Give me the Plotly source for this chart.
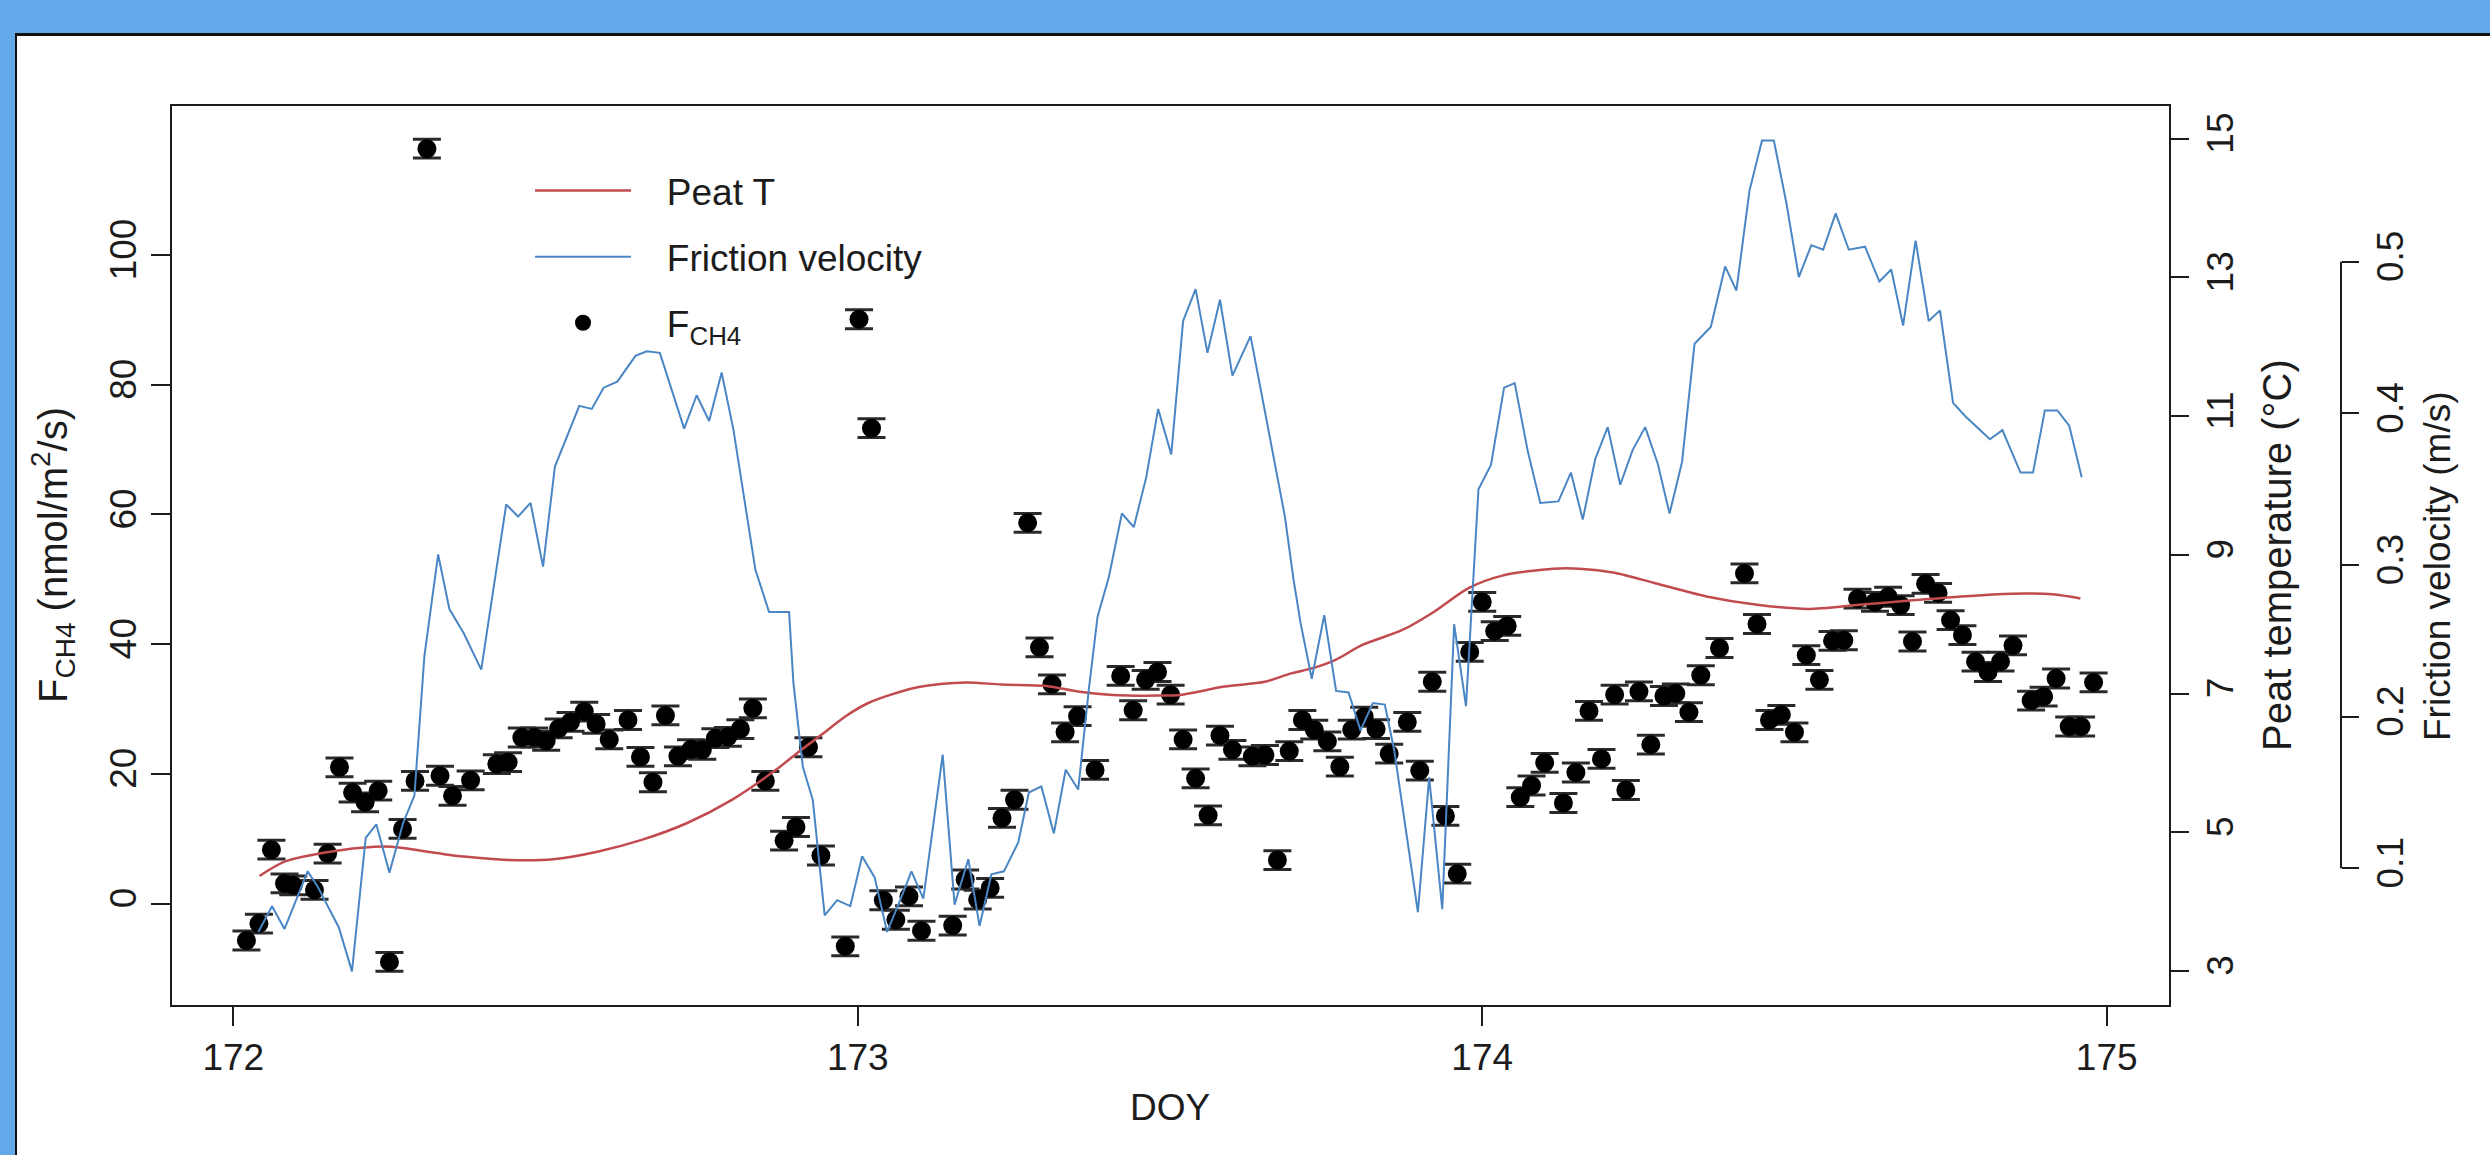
import plotly.graph_objects as go

# ---------------- data ----------------
# Half-hourly CH4 flux (nmol/m2/s) with its standard error
DOY_FCH4 = [
    172.021, 172.041, 172.061, 172.082, 172.096, 172.130, 172.151, 172.170, 172.191, 172.211,
    172.232, 172.250, 172.271, 172.291, 172.310, 172.331, 172.351, 172.380, 172.422, 172.440,
    172.462, 172.482, 172.501, 172.521, 172.540, 172.562, 172.581, 172.602, 172.632, 172.652,
    172.672, 172.692, 172.712, 172.733, 172.751, 172.772, 172.792, 172.812, 172.832, 172.852,
    172.882, 172.901, 172.921, 172.941, 172.980, 173.002, 173.022, 173.041, 173.061, 173.082,
    173.102, 173.152, 173.172, 173.192, 173.212, 173.231, 173.251, 173.272, 173.291, 173.311,
    173.332, 173.352, 173.380, 173.421, 173.441, 173.461, 173.480, 173.501, 173.521, 173.541,
    173.561, 173.580, 173.600, 173.632, 173.652, 173.672, 173.691, 173.712, 173.731, 173.752,
    173.772, 173.791, 173.811, 173.830, 173.851, 173.880, 173.900, 173.920, 173.941, 173.960,
    173.980, 174.000, 174.020, 174.040, 174.061, 174.079, 174.100, 174.130, 174.150, 174.171,
    174.191, 174.212, 174.230, 174.251, 174.270, 174.291, 174.310, 174.331, 174.350, 174.380,
    174.420, 174.440, 174.460, 174.479, 174.500, 174.519, 174.540, 174.561, 174.579, 174.601,
    174.629, 174.650, 174.670, 174.689, 174.710, 174.730, 174.750, 174.769, 174.790, 174.810,
    174.830, 174.850, 174.879, 174.899, 174.919, 174.940, 174.959, 174.979,
]
FCH4 = [
    -5.7, -3.1, 8.3, 3.1, 2.8, 2.1, 7.7, 21.0, 17.1, 15.6,
    17.4, -9.0, 11.5, 18.9, 116.4, 19.7, 16.6, 19.0, 21.5, 21.8,
    25.6, 25.6, 25.1, 27.0, 28.0, 29.6, 27.7, 25.3, 28.3, 22.6,
    18.7, 29.0, 22.7, 23.8, 23.7, 25.5, 25.7, 26.9, 30.1, 18.9,
    9.7, 11.8, 24.1, 7.4, -6.6, 90.1, 73.3, 0.5, -2.5, 1.1,
    -4.2, -3.4, 3.7, 0.6, 2.4, 13.2, 16.0, 58.7, 39.5, 33.8,
    26.4, 28.9, 20.6, 35.1, 29.8, 34.5, 35.7, 32.2, 25.3, 19.3,
    13.6, 25.9, 23.7, 22.7, 22.9, 6.7, 23.5, 28.3, 26.8, 25.0,
    21.1, 26.8, 28.8, 26.9, 23.1, 28.0, 20.5, 34.2, 13.5, 4.6,
    38.8, 46.5, 42.0, 42.8, 16.4, 18.2, 21.7, 15.5, 20.2, 29.7,
    22.3, 32.2, 17.5, 32.7, 24.5, 32.0, 32.4, 29.5, 35.2, 39.4,
    50.9, 43.1, 28.3, 29.1, 26.4, 38.3, 34.5, 40.5, 40.6, 47.0,
    46.5, 47.3, 46.0, 40.4, 49.3, 47.9, 43.7, 41.4, 37.3, 35.7,
    37.3, 39.8, 31.3, 31.9, 34.7, 27.3, 27.3, 34.1,
]
FCH4_SE = 1.45

# Peat temperature (deg C)
DOY_PEAT = [
    172.042, 172.083, 172.155, 172.226, 172.254, 172.326, 172.369, 172.440, 172.512, 172.583,
    172.654, 172.726, 172.797, 172.869, 172.904, 172.944, 172.980, 173.016, 173.052, 173.102,
    173.173, 173.230, 173.302, 173.352, 173.408, 173.480, 173.516, 173.587, 173.652, 173.694,
    173.730, 173.766, 173.808, 173.873, 173.923, 173.978, 174.032, 174.114, 174.155, 174.212,
    174.277, 174.359, 174.440, 174.522, 174.603, 174.685, 174.767, 174.848, 174.913, 174.958,
]
PEAT_T = [
    4.37, 4.58, 4.72, 4.79, 4.79, 4.70, 4.65, 4.60, 4.61, 4.72,
    4.89, 5.13, 5.46, 5.90, 6.15, 6.42, 6.67, 6.86, 6.98, 7.10,
    7.16, 7.13, 7.11, 7.03, 6.98, 6.97, 6.98, 7.10, 7.17, 7.29,
    7.37, 7.49, 7.70, 7.92, 8.18, 8.52, 8.70, 8.80, 8.80, 8.74,
    8.59, 8.40, 8.28, 8.22, 8.28, 8.34, 8.40, 8.44, 8.43, 8.37,
]

# Friction velocity u* (m/s)
DOY_USTAR = [
    172.040, 172.062, 172.082, 172.119, 172.135, 172.169, 172.190, 172.212, 172.229, 172.250,
    172.272, 172.290, 172.306, 172.328, 172.346, 172.369, 172.397, 172.437, 172.456, 172.476,
    172.496, 172.515, 172.554, 172.574, 172.593, 172.615, 172.644, 172.662, 172.683, 172.722,
    172.742, 172.762, 172.782, 172.801, 172.836, 172.858, 172.890, 172.897, 172.912, 172.928,
    172.947, 172.967, 172.988, 173.007, 173.027, 173.047, 173.066, 173.086, 173.105, 173.136,
    173.155, 173.177, 173.195, 173.214, 173.234, 173.257, 173.274, 173.294, 173.314, 173.333,
    173.353, 173.370, 173.384, 173.402, 173.423, 173.442, 173.462, 173.481, 173.502, 173.521,
    173.541, 173.560, 173.580, 173.600, 173.629, 173.648, 173.666, 173.684, 173.698, 173.709,
    173.727, 173.747, 173.766, 173.786, 173.805, 173.825, 173.844, 173.859, 173.897, 173.915,
    173.936, 173.955, 173.974, 173.994, 174.014, 174.035, 174.052, 174.073, 174.093, 174.122,
    174.142, 174.161, 174.181, 174.201, 174.221, 174.241, 174.261, 174.281, 174.300, 174.320,
    174.340, 174.366, 174.389, 174.407, 174.428, 174.448, 174.467, 174.487, 174.507, 174.527,
    174.546, 174.566, 174.587, 174.613, 174.636, 174.655, 174.674, 174.694, 174.715, 174.733,
    174.754, 174.774, 174.793, 174.813, 174.833, 174.862, 174.882, 174.901, 174.921, 174.940,
    174.960,
]
USTAR = [
    0.058, 0.075, 0.060, 0.098, 0.088, 0.061, 0.032, 0.120, 0.129, 0.097,
    0.130, 0.148, 0.240, 0.307, 0.271, 0.255, 0.231, 0.340, 0.332, 0.341,
    0.299, 0.365, 0.405, 0.403, 0.417, 0.421, 0.438, 0.441, 0.440, 0.390,
    0.412, 0.395, 0.427, 0.389, 0.297, 0.269, 0.269, 0.222, 0.167, 0.145,
    0.069, 0.079, 0.075, 0.108, 0.094, 0.058, 0.077, 0.098, 0.080, 0.175,
    0.076, 0.106, 0.062, 0.096, 0.098, 0.117, 0.150, 0.154, 0.123, 0.165,
    0.152, 0.218, 0.266, 0.292, 0.334, 0.325, 0.358, 0.403, 0.373, 0.461,
    0.482, 0.440, 0.475, 0.425, 0.451, 0.411, 0.371, 0.332, 0.290, 0.262,
    0.225, 0.267, 0.217, 0.216, 0.191, 0.209, 0.208, 0.178, 0.071, 0.160,
    0.073, 0.261, 0.207, 0.350, 0.366, 0.417, 0.420, 0.375, 0.341, 0.342,
    0.361, 0.330, 0.370, 0.391, 0.353, 0.376, 0.391, 0.367, 0.334, 0.368,
    0.446, 0.457, 0.497, 0.481, 0.547, 0.580, 0.580, 0.539, 0.490, 0.511,
    0.508, 0.532, 0.508, 0.510, 0.487, 0.495, 0.458, 0.514, 0.461, 0.468,
    0.407, 0.398, 0.391, 0.383, 0.389, 0.361, 0.361, 0.402, 0.402, 0.392,
    0.358,
]

X_TICKS = [172, 173, 174, 175]
F_TICKS = [0, 20, 40, 60, 80, 100]
T_TICKS = [3, 5, 7, 9, 11, 13, 15]
U_TICKS = [0.1, 0.2, 0.3, 0.4, 0.5]

# ---------------- page geometry ----------------
W, H = 2490, 1155
ML, MR, MT, MB = 172, 90, 106, 150
PW, PH = W - ML - MR, H - MT - MB


def pxx(x):
    """page pixel column -> paper x"""
    return (x - ML) / PW


def pxy(y):
    """page pixel row -> paper y"""
    return (H - MB - y) / PH


FONT = "Liberation Sans, Arial, Helvetica, sans-serif"
INK = "#1c1c1c"
FS = 37
FS_TITLE = 40
RED = "#c14b4e"
BLUE = "#4a86c4"
FRAME_BLUE = "#63a9e9"
PAD = "\u00a0\u00a0\u00a0"  # gap between legend key and its label

fig = go.Figure()

fig.add_trace(go.Scatter(
    x=DOY_FCH4, y=FCH4, mode="markers", name=PAD + "F<sub>CH4</sub>",
    marker=dict(size=19, color="black"),
    error_y=dict(type="constant", value=FCH4_SE, color="#2a2a2a", thickness=3, width=14),
    xaxis="x", yaxis="y", legendrank=3, legendgroup="fch4",
))
fig.add_trace(go.Scatter(
    x=DOY_PEAT, y=PEAT_T, mode="lines", name=PAD + "Peat T",
    line=dict(color=RED, width=2.5, shape="spline", smoothing=0.8),
    xaxis="x", yaxis="y2", legendrank=1, legendgroup="peat",
))
fig.add_trace(go.Scatter(
    x=DOY_USTAR, y=USTAR, mode="lines", name=PAD + "Friction velocity",
    line=dict(color=BLUE, width=2),
    xaxis="x", yaxis="y3", legendrank=2, legendgroup="ustar",
))

axis_common = dict(
    ticks="outside", ticklen=19, tickwidth=2, tickcolor=INK,
    showgrid=False, zeroline=False,
    tickfont=dict(family=FONT, size=FS, color=INK),
)


def frame_rect(x0, x1, y0, y1, color):
    return dict(type="rect", xref="paper", yref="paper", layer="below",
                x0=pxx(x0), x1=pxx(x1), y0=pxy(y1), y1=pxy(y0),
                fillcolor=color, line=dict(width=0))


fig.update_layout(
    width=W, height=H,
    margin=dict(l=ML, r=MR, t=MT, b=MB, pad=0),
    paper_bgcolor="white",
    plot_bgcolor="white",
    font=dict(family=FONT, size=FS, color=INK),
    showlegend=True,
    legend=dict(
        x=pxx(530), y=pxy(160), xanchor="left", yanchor="top",
        bgcolor="rgba(0,0,0,0)", borderwidth=0,
        font=dict(family=FONT, size=FS, color=INK),
        itemwidth=96, traceorder="grouped", tracegroupgap=15,
    ),
    xaxis=dict(
        domain=[0, pxx(2169)], range=[171.9018, 175.0998],
        tickvals=X_TICKS, showline=True, linewidth=2, linecolor=INK, mirror=True,
        **axis_common,
    ),
    yaxis=dict(
        range=[-15.65, 122.98], tickvals=F_TICKS, tickangle=-90,
        showline=True, linewidth=2, linecolor=INK, mirror=True,
        **axis_common,
    ),
    yaxis2=dict(
        overlaying="y", side="right", anchor="x",
        range=[2.51, 15.47], tickvals=T_TICKS, tickangle=-90, showline=False,
        **axis_common,
    ),
    yaxis3=dict(
        overlaying="y", side="right", anchor="free", position=pxx(2341),
        range=[0.00983, 0.6028], tickvals=U_TICKS, tickangle=-90, showline=False,
        **{**axis_common, "ticklen": 17},
    ),
    shapes=[
        # blue page border on top and left, with a dark inner edge
        frame_rect(-10, 2600, -10, 33, FRAME_BLUE),
        frame_rect(-10, 15, -10, 1200, FRAME_BLUE),
        frame_rect(15, 2600, 33, 36, "#111111"),
        frame_rect(15, 17, 33, 1200, "#111111"),
        # friction-velocity axis spine spanning its tick range
        dict(type="line", xref="paper", yref="y3",
             x0=pxx(2341), x1=pxx(2341), y0=U_TICKS[0], y1=U_TICKS[-1],
             line=dict(color=INK, width=2)),
    ],
    annotations=[
        dict(text="DOY", xref="paper", yref="paper", x=pxx(1170), y=pxy(1107),
             xanchor="center", yanchor="middle", showarrow=False,
             font=dict(family=FONT, size=FS, color=INK)),
        dict(text="F<sub>CH4</sub> (nmol/m<sup>2</sup>/s)", xref="paper", yref="paper",
             x=pxx(53), y=pxy(555), textangle=-90,
             xanchor="center", yanchor="middle", showarrow=False,
             font=dict(family=FONT, size=FS_TITLE, color=INK)),
        dict(text="Peat temperature (°C)", xref="paper", yref="paper",
             x=pxx(2277), y=pxy(555), textangle=-90,
             xanchor="center", yanchor="middle", showarrow=False,
             font=dict(family=FONT, size=FS_TITLE, color=INK)),
        dict(text="Friction velocity (m/s)", xref="paper", yref="paper",
             x=pxx(2437), y=pxy(567), textangle=-90,
             xanchor="center", yanchor="middle", showarrow=False,
             font=dict(family=FONT, size=FS, color=INK)),
    ],
)

fig.write_html("out.html")
